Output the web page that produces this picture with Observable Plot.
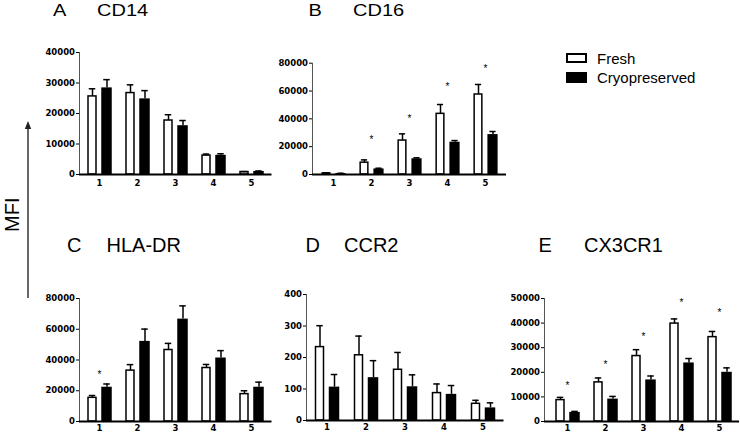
<!DOCTYPE html>
<html><head><meta charset="utf-8">
<script src="https://cdn.jsdelivr.net/npm/d3@7"></script>
<script src="https://cdn.jsdelivr.net/npm/@observablehq/plot@0.6"></script>
<style>
body{margin:0;background:#fff;}
#root{position:relative;width:740px;height:433px;overflow:hidden;font-family:"Liberation Sans",Arial,sans-serif;color:#000;}
.panel{position:absolute;}
.title{position:absolute;font-size:20px;line-height:1;white-space:nowrap;}
.top .title{transform:scaleY(0.82);transform-origin:0 16.9px;}
.leg{position:absolute;font-size:15px;line-height:1;white-space:nowrap;}
.box{position:absolute;box-sizing:border-box;width:21px;}
#mfi{position:absolute;left:3.5px;top:198px;width:16px;height:34px;font-size:20px;line-height:16px;white-space:nowrap;writing-mode:vertical-rl;transform:rotate(180deg);text-align:center;}
</style></head><body><div id="root"></div>
<script>
const groups = ["1", "2", "3", "4", "5"];
const seriesNames = ["Fresh", "Cryopreserved"];
const titles = [["A", "CD14"], ["B", "CD16"], ["C", "HLA-DR"], ["D", "CCR2"], ["E", "CX3CR1"]];

// A  CD14
const cd14Fresh = [25600, 26700, 17700, 6200, 800];
const cd14FreshErr = [2500, 2700, 1900, 500, 150];
const cd14Cryo = [28400, 24800, 16000, 6300, 1000];
const cd14CryoErr = [2700, 2700, 1700, 500, 150];
const cd14Star = [null, null, null, null, null];
const cd14Ticks = [0, 10000, 20000, 30000, 40000];

// B  CD16
const cd16Fresh = [800, 8500, 24400, 43600, 57500];
const cd16FreshErr = [300, 2000, 4800, 6700, 7200];
const cd16Cryo = [700, 4000, 11300, 23200, 28700];
const cd16CryoErr = [200, 500, 700, 1200, 2200];
const cd16Star = [null, 26600, 41200, 64700, 77600];
const cd16Ticks = [0, 20000, 40000, 60000, 80000];

// C  HLA-DR
const hlaFresh = [15400, 33100, 46500, 34800, 17800];
const hlaFreshErr = [1500, 3900, 4300, 2300, 2200];
const hlaCryo = [22300, 52100, 66600, 41300, 22300];
const hlaCryoErr = [2100, 8000, 8600, 4800, 3300];
const hlaStar = [32000, null, null, null, null];
const hlaTicks = [0, 20000, 40000, 60000, 80000];

// D  CCR2
const ccr2Fresh = [233, 207, 161, 87, 53];
const ccr2FreshErr = [68, 61, 55, 29, 11];
const ccr2Cryo = [106, 136, 107, 83, 40];
const ccr2CryoErr = [40, 54, 38, 28, 16];
const ccr2Star = [null, null, null, null, null];
const ccr2Ticks = [0, 100, 200, 300, 400];

// E  CX3CR1
const cxFresh = [8700, 15900, 26600, 39800, 34300];
const cxFreshErr = [1100, 1800, 2600, 1900, 2300];
const cxCryo = [3700, 9100, 16900, 23800, 20000];
const cxCryoErr = [400, 1100, 1600, 1800, 1800];
const cxStar = [15500, 23800, 35300, 49000, 44800];
const cxTicks = [0, 10000, 20000, 30000, 40000, 50000];

const root = document.getElementById("root");

function rows(vals, errs) {
  return groups.map((g, i) => ({group: g, value: vals[i], err: errs[i]}));
}

function panel(cfg) {
  const {fresh, freshErr, cryo, cryoErr, star, ticks, left, top, width, height, axisX, axisEnd, plotTop, zeroY, insetL = 0, xPad = 5} = cfg;
  const bw = (axisEnd - axisX - insetL) / groups.length;
  const F = rows(fresh, freshErr);
  const C = rows(cryo, cryoErr);
  const S = groups.map((g, i) => ({group: g, star: star[i]})).filter(d => d.star != null);
  const fc = -7, cc = 7.5, cap = 3.5;
  const txt = {fontFamily: "DejaVu Sans", fontSize: 8.5, fontWeight: "bold"};
  const p = Plot.plot({
    width, height,
    marginLeft: axisX - left,
    marginRight: left + width - axisEnd,
    marginTop: plotTop - top,
    marginBottom: top + height - zeroY,
    style: {background: "transparent", color: "#000", overflow: "visible"},
    x: {domain: groups, padding: 0, insetLeft: insetL},
    y: {domain: [0, ticks[ticks.length - 1]]},
    marks: [
      Plot.barY(F, {x: "group", y: "value", fill: "white", stroke: "black", strokeWidth: 1.5,
        insetLeft: bw / 2 - 11.25, insetRight: bw / 2 + 2.75}),
      Plot.barY(C, {x: "group", y: "value", fill: "black",
        insetLeft: bw / 2 + 2, insetRight: bw / 2 - 13}),
      Plot.ruleX(F, {x: "group", y1: "value", y2: d => d.value + d.err, dx: fc, stroke: "black", strokeWidth: 1.5}),
      Plot.ruleX(C, {x: "group", y1: "value", y2: d => d.value + d.err, dx: cc, stroke: "black", strokeWidth: 1.5}),
      Plot.tickY(F, {x: "group", y: d => d.value + d.err, stroke: "black", strokeWidth: 1.5,
        insetLeft: bw / 2 + fc - cap, insetRight: bw / 2 - fc - cap}),
      Plot.tickY(C, {x: "group", y: d => d.value + d.err, stroke: "black", strokeWidth: 1.5,
        insetLeft: bw / 2 + cc - cap, insetRight: bw / 2 - cc - cap}),
      Plot.text(S, {x: "group", y: "star", text: () => "*", fontSize: 10, fontFamily: "Liberation Sans", dy: 2}),
      Plot.frame({anchor: "left", stroke: "#555", strokeWidth: 1}),
      Plot.ruleY([0], {stroke: "black", strokeWidth: 2}),
      Plot.axisY({ticks, tickSize: 3, tickPadding: 1.5, tickFormat: d => String(d), label: null, ...txt}),
      Plot.axisX({tickSize: 0, tickPadding: xPad, label: null, ...txt})
    ]
  });
  const wrap = document.createElement("div");
  wrap.className = "panel";
  wrap.style.left = left + "px";
  wrap.style.top = top + "px";
  wrap.appendChild(p);
  root.appendChild(wrap);
}

panel({fresh: cd14Fresh, freshErr: cd14FreshErr, cryo: cd14Cryo, cryoErr: cd14CryoErr, star: cd14Star, ticks: cd14Ticks,
  left: 30, top: 40, width: 245, height: 150, axisX: 79, axisEnd: 271.5, plotTop: 52, zeroY: 174});
panel({fresh: cd16Fresh, freshErr: cd16FreshErr, cryo: cd16Cryo, cryoErr: cd16CryoErr, star: cd16Star, ticks: cd16Ticks,
  left: 275, top: 40, width: 245, height: 150, axisX: 312, axisEnd: 506, plotTop: 62.7, zeroY: 174});
panel({fresh: hlaFresh, freshErr: hlaFreshErr, cryo: hlaCryo, cryoErr: hlaCryoErr, star: hlaStar, ticks: hlaTicks,
  left: 30, top: 283, width: 245, height: 150, axisX: 79, axisEnd: 271.5, plotTop: 298, zeroY: 421, xPad: 3});
panel({fresh: ccr2Fresh, freshErr: ccr2FreshErr, cryo: ccr2Cryo, cryoErr: ccr2CryoErr, star: ccr2Star, ticks: ccr2Ticks,
  left: 275, top: 283, width: 230, height: 150, axisX: 306, axisEnd: 503.5, plotTop: 294, zeroY: 420, xPad: 3});
panel({fresh: cxFresh, freshErr: cxFreshErr, cryo: cxCryo, cryoErr: cxCryoErr, star: cxStar, ticks: cxTicks,
  left: 505, top: 283, width: 235, height: 150, axisX: 544, axisEnd: 739, plotTop: 298, zeroY: 421, insetL: 2.5, xPad: 3});

// titles
const titlePos = [
  {row: "top", letter: 53, name: 97, top: -0.9},
  {row: "top", letter: 308.5, name: 353, top: -0.9},
  {row: "bot", letter: 67, name: 106.5, top: 235},
  {row: "bot", letter: 305.5, name: 344, top: 235},
  {row: "bot", letter: 538.5, name: 584, top: 235}
];
titles.forEach((t, i) => {
  const pos = titlePos[i];
  const g = document.createElement("div");
  g.className = pos.row;
  [[t[0], pos.letter], [t[1], pos.name]].forEach(([s, x]) => {
    const d = document.createElement("div");
    d.className = "title";
    d.textContent = s;
    d.style.left = x + "px";
    d.style.top = pos.top + "px";
    g.appendChild(d);
  });
  root.appendChild(g);
});

// legend
const legTops = [53, 72];
seriesNames.forEach((name, i) => {
  const b = document.createElement("div");
  b.className = "box";
  b.style.left = "566px";
  b.style.top = legTops[i] + "px";
  b.style.height = (i === 0 ? 10 : 11) + "px";
  b.style.border = "2px solid #000";
  b.style.background = i === 0 ? "#fff" : "#000";
  root.appendChild(b);
  const t = document.createElement("div");
  t.className = "leg";
  t.textContent = name;
  t.style.left = "597px";
  t.style.top = (legTops[i] - 2.3) + "px";
  root.appendChild(t);
});

// MFI label and arrow
const mfi = document.createElement("div");
mfi.id = "mfi";
mfi.textContent = "MFI";
root.appendChild(mfi);
const ns = "http://www.w3.org/2000/svg";
const arr = document.createElementNS(ns, "svg");
arr.setAttribute("width", 40); arr.setAttribute("height", 433);
arr.style.cssText = "position:absolute;left:0;top:0;";
arr.innerHTML = '<line x1="28" y1="298" x2="28" y2="127" stroke="#333" stroke-width="1.5"/><polygon points="24.8,129 28,121 31.2,129" fill="#222"/>';
root.appendChild(arr);
</script>
</body></html>
